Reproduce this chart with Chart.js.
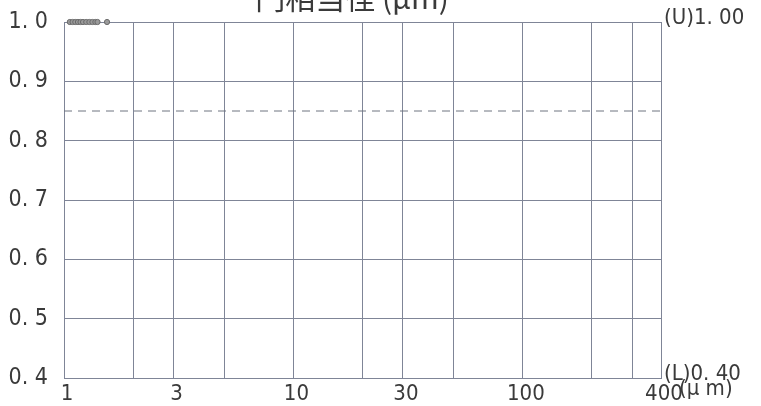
<!DOCTYPE html>
<html>
<head>
<meta charset="utf-8">
<script src="https://cdn.jsdelivr.net/npm/chart.js@4"></script>
<style>
  html, body { margin: 0; padding: 0; background: #ffffff; }
  #wrap { width: 761px; height: 406px; position: relative; }
</style>
</head>
<body>
<div id="wrap"><canvas id="c" width="761" height="406"></canvas></div>
<script>
// ---- data ----
const titleText = "円相当径 (μm)";
const unitText = "(μ m)";
const xGridValues = [1, 2, 3, 5, 10, 20, 30, 50, 100, 200, 300, 400];
const xLabelValues = [1, 3, 10, 30, 100, 400];
const yTickValues = [0.4, 0.5, 0.6, 0.7, 0.8, 0.9, 1.0];
const rightTickValues = [0.4, 1.0];
const rightTickLabels = ["(L)0. 40", "(U)1. 00"];
const pointX = [1.06, 1.09, 1.12, 1.15, 1.18, 1.21, 1.25, 1.29, 1.33, 1.37, 1.40, 1.54];
const pointY = [1.0, 1.0, 1.0, 1.0, 1.0, 1.0, 1.0, 1.0, 1.0, 1.0, 1.0, 1.0];
const refX = [1, 400];
const refY = [0.85, 0.85];

const LABEL_FONT = "'DejaVu Sans Condensed','Liberation Sans Narrow','DejaVu Sans',sans-serif";
const TEXT_COLOR = "#3a3a3a";
const GRID_COLOR = "#7f8597";

const pts = pointX.map((x, i) => ({ x: x, y: pointY[i] }));
const refPts = refX.map((x, i) => ({ x: x, y: refY[i] }));

const extraText = {
  id: 'extraText',
  afterDraw(chart) {
    const ctx = chart.ctx;
    const xs = chart.scales.x;
    ctx.save();
    ctx.fillStyle = TEXT_COLOR;
    ctx.font = "30px 'Noto Sans CJK JP', sans-serif";
    ctx.textAlign = 'center';
    ctx.textBaseline = 'alphabetic';
    ctx.fillText(titleText, 352, 9);
    ctx.font = "22px " + LABEL_FONT;
    ctx.textAlign = 'left';
    ctx.textBaseline = 'middle';
    ctx.fillText(unitText, xs.getPixelForValue(400) + 18, 389);
    ctx.restore();
  }
};

function noVPad(scale) { scale.paddingTop = 0; scale.paddingBottom = 0; }

new Chart(document.getElementById('c'), {
  type: 'scatter',
  data: {
    datasets: [
      {
        data: refPts,
        showLine: true,
        borderColor: '#6f7480',
        borderWidth: 1,
        borderDash: [8, 6],
        pointRadius: 0,
        fill: false
      },
      {
        data: pts,
        pointStyle: 'circle',
        pointRadius: 2.6,
        borderColor: '#6a6a6a',
        backgroundColor: '#9a9a9a',
        borderWidth: 1,
        clip: false
      }
    ]
  },
  options: {
    responsive: false,
    animation: false,
    devicePixelRatio: 1,
    layout: { padding: { top: 22, left: 0, right: 0, bottom: 0 } },
    plugins: { legend: { display: false }, tooltip: { enabled: false }, title: { display: false } },
    scales: {
      x: {
        type: 'logarithmic',
        min: 1, max: 400,
        afterBuildTicks(scale) { scale.ticks = xGridValues.map(v => ({ value: v })); },
        afterFit(scale) { scale.height = 28; scale.paddingLeft = 0; scale.paddingRight = 0; },
        grid: { color: GRID_COLOR, lineWidth: 1, drawTicks: false },
        border: { color: GRID_COLOR, width: 1 },
        ticks: {
          autoSkip: false, maxRotation: 0, padding: 3, labelOffset: 3,
          color: TEXT_COLOR,
          font: { family: LABEL_FONT, size: 22 },
          callback(v) { return xLabelValues.includes(v) ? String(v) : ''; }
        }
      },
      y: {
        position: 'left',
        min: 0.4, max: 1.0,
        afterBuildTicks(scale) { scale.ticks = yTickValues.map(v => ({ value: v })); },
        afterFit(scale) { scale.width = 64; noVPad(scale); },
        grid: { color: GRID_COLOR, lineWidth: 1, drawTicks: false },
        border: { color: GRID_COLOR, width: 1 },
        ticks: {
          padding: 16,
          color: TEXT_COLOR,
          font: { family: LABEL_FONT, size: 23 },
          callback(v) { return Number(v).toFixed(1).replace('.', '. '); }
        }
      },
      y2: {
        position: 'right',
        min: 0.4, max: 1.0,
        afterBuildTicks(scale) { scale.ticks = rightTickValues.map(v => ({ value: v })); },
        afterFit(scale) { scale.width = 100; noVPad(scale); },
        grid: { display: false, drawTicks: false },
        border: { color: GRID_COLOR, width: 1 },
        ticks: {
          padding: 3,
          labelOffset: -4,
          color: TEXT_COLOR,
          font: { family: LABEL_FONT, size: 22 },
          callback(v) { const i = rightTickValues.indexOf(v); return i >= 0 ? rightTickLabels[i] : ''; }
        }
      }
    }
  },
  plugins: [extraText]
});
</script>
</body>
</html>
